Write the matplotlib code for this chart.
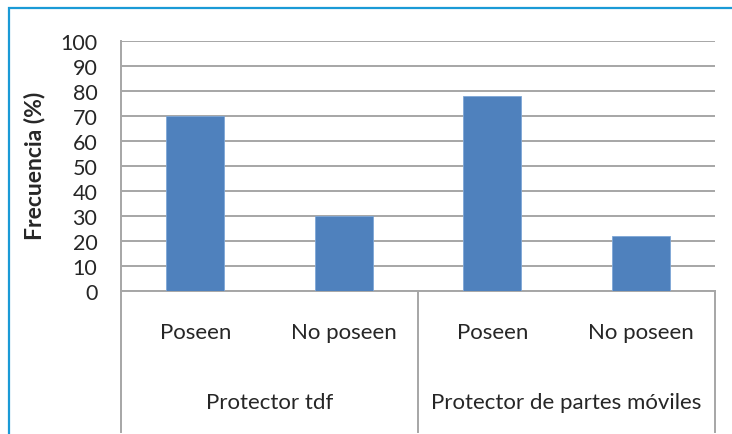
import matplotlib.pyplot as plt
from matplotlib.patches import Rectangle
from matplotlib.lines import Line2D

plt.rcParams['font.family'] = ['Lato', 'DejaVu Sans']

# data
groups = ['Protector tdf', 'Protector de partes móviles']
categories = ['Poseen', 'No poseen', 'Poseen', 'No poseen']
frecuencia = [70, 30, 78, 22]
yticks = [0, 10, 20, 30, 40, 50, 60, 70, 80, 90, 100]

bar_color = '#4f81bd'
grid_color = '#a6a6a6'
text_color = '#262626'

W, H = 732, 435
fig = plt.figure(figsize=(W / 100, H / 100), dpi=100)

# outer chart frame
fig.patches.append(Rectangle((8.5 / W, -0.05), 1.2, (H - 8.5) / H + 0.05,
                             transform=fig.transFigure, fill=False,
                             edgecolor='#1a9ad6', linewidth=1.6))

ax = fig.add_axes([121 / W, (H - 292) / H, 594 / W, 250 / H])
x = list(range(len(categories)))
ax.bar(x, frecuencia, width=0.39, color=bar_color, edgecolor='#7ea6d6',
       linewidth=0.6, zorder=3)

ax.set_xlim(-0.5, len(categories) - 0.5)
ax.set_ylim(0, 100)
ax.set_yticks(yticks)
ax.set_yticklabels([str(v) for v in yticks], fontsize=15.5, color=text_color)
ax.tick_params(axis='y', length=0, pad=17)
ax.set_xticks([])
ax.yaxis.grid(True, color=grid_color, linewidth=1.4, zorder=0)

for side in ['top', 'right']:
    ax.spines[side].set_visible(False)
for side in ['left', 'bottom']:
    ax.spines[side].set_color(grid_color)
    ax.spines[side].set_linewidth(1.4)

ax.set_ylabel('Frecuencia (%)', fontsize=16.5, fontweight='bold',
              color=text_color)
ax.yaxis.set_label_coords(-0.128, 0.504)

# two-level category axis
tr = ax.get_xaxis_transform()
depth = -0.564
for xv in [-0.5, 1.5, 3.5]:
    ax.add_line(Line2D([xv, xv], [0, depth], transform=tr, color=grid_color,
                       linewidth=1.4, clip_on=False))

for xv, lab in zip(x, categories):
    ax.text(xv, -0.165, lab, transform=tr, ha='center', va='center',
            fontsize=16, color=text_color)

for i, g in enumerate(groups):
    ax.text(2 * i + 0.5, -0.445, g, transform=tr, ha='center', va='center',
            fontsize=16, color=text_color)

fig.savefig('out.png', dpi=100)
